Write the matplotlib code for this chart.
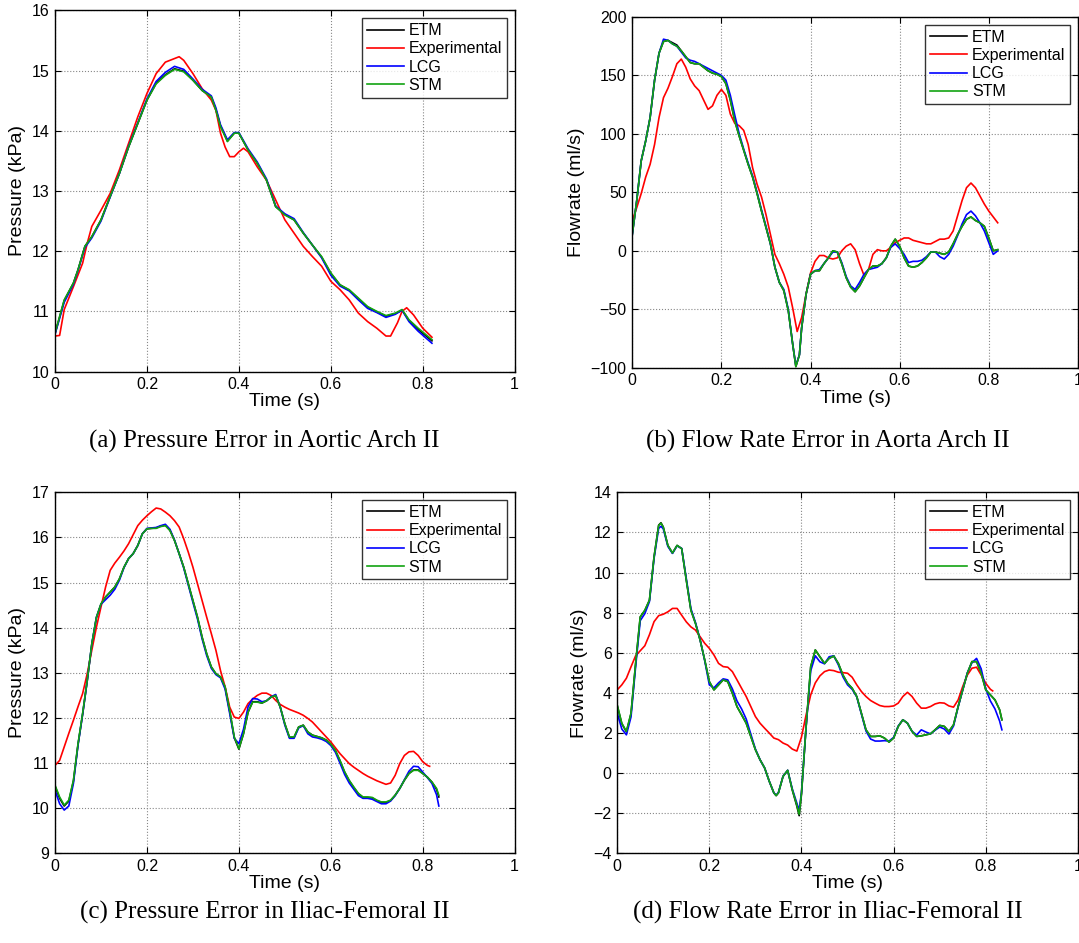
import matplotlib
matplotlib.use('Agg')
import matplotlib.pyplot as plt

# ---------------- (a) pressure, aortic arch ----------------
t_a = [0, 0.02, 0.04, 0.05, 0.065, 0.08, 0.10, 0.12, 0.14, 0.16,
       0.18, 0.20, 0.22, 0.24, 0.26, 0.28, 0.30, 0.32, 0.34, 0.35,
       0.36, 0.375, 0.39, 0.40, 0.42, 0.44, 0.46, 0.48, 0.50, 0.52,
       0.54, 0.56, 0.58, 0.60, 0.62, 0.64, 0.66, 0.68, 0.70, 0.72,
       0.74, 0.755, 0.77, 0.79, 0.82]
stm_a = [10.64, 11.19, 11.47, 11.69, 12.08, 12.24, 12.52, 12.91, 13.29, 13.73,
         14.12, 14.51, 14.78, 14.92, 15.02, 14.98, 14.84, 14.67, 14.56, 14.34,
         14.07, 13.82, 13.96, 13.96, 13.68, 13.46, 13.18, 12.74, 12.60, 12.52,
         12.30, 12.10, 11.91, 11.64, 11.44, 11.36, 11.22, 11.08, 11.00, 10.93,
         10.97, 11.03, 10.86, 10.72, 10.53]
etm_a = [10.63, 11.18, 11.47, 11.69, 12.08, 12.24, 12.52, 12.91, 13.29, 13.73,
         14.12, 14.51, 14.79, 14.93, 15.03, 14.99, 14.84, 14.67, 14.56, 14.35,
         14.08, 13.83, 13.96, 13.96, 13.68, 13.46, 13.18, 12.74, 12.61, 12.52,
         12.30, 12.10, 11.90, 11.63, 11.44, 11.35, 11.21, 11.07, 10.99, 10.92,
         10.96, 11.02, 10.85, 10.70, 10.51]
lcg_a = [10.62, 11.15, 11.45, 11.68, 12.06, 12.22, 12.50, 12.90, 13.29, 13.74,
         14.13, 14.53, 14.82, 14.97, 15.07, 15.02, 14.86, 14.69, 14.58, 14.38,
         14.10, 13.85, 13.97, 13.97, 13.70, 13.48, 13.20, 12.75, 12.62, 12.54,
         12.31, 12.10, 11.89, 11.60, 11.42, 11.34, 11.19, 11.05, 10.98, 10.90,
         10.95, 11.02, 10.83, 10.67, 10.47]
te_a = [0, 0.01, 0.02, 0.04, 0.06, 0.07, 0.08, 0.10, 0.12, 0.14,
        0.16, 0.18, 0.20, 0.22, 0.24, 0.26, 0.27, 0.28, 0.30, 0.32,
        0.34, 0.35, 0.36, 0.37, 0.38, 0.39, 0.40, 0.41, 0.42, 0.44,
        0.46, 0.48, 0.50, 0.52, 0.54, 0.56, 0.58, 0.60, 0.62, 0.64,
        0.66, 0.68, 0.70, 0.72, 0.73, 0.745, 0.755, 0.765, 0.78, 0.80,
        0.82]
exp_a = [10.59, 10.60, 11.03, 11.41, 11.80, 12.13, 12.41, 12.68, 12.96, 13.35,
         13.79, 14.23, 14.62, 14.95, 15.14, 15.20, 15.23, 15.17, 14.95, 14.70,
         14.51, 14.34, 13.96, 13.73, 13.57, 13.57, 13.65, 13.71, 13.65, 13.40,
         13.18, 12.85, 12.52, 12.30, 12.08, 11.91, 11.75, 11.50, 11.36, 11.19,
         10.97, 10.83, 10.72, 10.59, 10.59, 10.81, 11.00, 11.06, 10.94, 10.72,
         10.57]

# ---------------- (b) flow rate, aortic arch ----------------
t_b = [0.00, 0.01, 0.02, 0.03, 0.04, 0.05, 0.06, 0.07, 0.08, 0.09,
       0.10, 0.11, 0.12, 0.13, 0.14, 0.15, 0.16, 0.17, 0.18, 0.19,
       0.20, 0.21, 0.22, 0.23, 0.24, 0.25, 0.26, 0.27, 0.28, 0.29,
       0.30, 0.31, 0.32, 0.33, 0.34, 0.35, 0.36, 0.367, 0.375, 0.38,
       0.39, 0.40, 0.41, 0.42, 0.43, 0.44, 0.45, 0.46, 0.47, 0.48,
       0.49, 0.50, 0.51, 0.52, 0.53, 0.54, 0.55, 0.56, 0.57, 0.58,
       0.59, 0.60, 0.61, 0.62, 0.63, 0.64, 0.65, 0.66, 0.67, 0.68,
       0.69, 0.70, 0.71, 0.72, 0.73, 0.74, 0.75, 0.76, 0.77, 0.78,
       0.79, 0.80, 0.81, 0.82]
stm_b = [14, 43, 77, 94, 114, 146, 169, 179, 180, 177,
         175, 171, 166, 161, 160, 160, 157, 154, 152, 151,
         149, 143, 129, 111, 98, 86, 74, 63, 49, 34,
         20, 6, -14, -27, -34, -51, -80, -99, -89, -66,
         -37, -20, -17, -17, -11, -6, 0, -1, -11, -23,
         -31, -35, -30, -23, -16, -13, -13, -11, -6, 4,
         10, 4, -6, -13, -14, -13, -10, -6, -1, -1,
         -2, -3, -1, 6, 14, 21, 27, 29, 26, 24,
         21, 11, 0, 1]
etm_b = [14, 43, 77, 94, 114, 146, 169, 179, 180, 178,
         176, 171, 166, 161, 160, 160, 157, 154, 152, 151,
         149, 143, 129, 111, 98, 86, 74, 63, 49, 34,
         20, 6, -14, -27, -34, -51, -80, -99, -89, -66,
         -37, -20, -17, -17, -11, -6, 0, -1, -11, -23,
         -31, -35, -30, -23, -16, -13, -13, -11, -6, 4,
         10, 4, -6, -13, -14, -13, -10, -6, -1, -1,
         -2, -3, -1, 6, 14, 21, 27, 29, 26, 24,
         21, 11, 0, 1]
lcg_b = [14, 43, 77, 94, 114, 146, 169, 181, 180, 177,
         175, 170, 165, 163, 162, 160, 158, 156, 154, 152,
         150, 146, 133, 116, 100, 87, 75, 64, 50, 35,
         21, 6, -14, -27, -33, -50, -80, -98, -89, -66,
         -37, -20, -17, -16, -11, -6, -1, -1, -10, -22,
         -30, -33, -27, -20, -16, -15, -14, -11, -6, 3,
         6, 2, -3, -10, -9, -9, -8, -5, -1, -1,
         -5, -7, -3, 4, 13, 23, 31, 34, 30, 24,
         17, 7, -3, 0]
te_b = [0.00, 0.01, 0.02, 0.03, 0.04, 0.05, 0.06, 0.07, 0.08, 0.09,
        0.10, 0.11, 0.12, 0.13, 0.14, 0.15, 0.16, 0.17, 0.18, 0.19,
        0.20, 0.21, 0.22, 0.23, 0.24, 0.25, 0.26, 0.27, 0.28, 0.29,
        0.30, 0.31, 0.32, 0.33, 0.34, 0.35, 0.36, 0.37, 0.38, 0.39,
        0.40, 0.41, 0.42, 0.43, 0.44, 0.45, 0.46, 0.47, 0.48, 0.49,
        0.50, 0.51, 0.52, 0.53, 0.54, 0.55, 0.56, 0.57, 0.58, 0.59,
        0.60, 0.61, 0.62, 0.63, 0.64, 0.65, 0.66, 0.67, 0.68, 0.69,
        0.70, 0.71, 0.72, 0.73, 0.74, 0.75, 0.76, 0.77, 0.78, 0.79,
        0.80, 0.81, 0.82]
exp_b = [26, 37, 49, 63, 74, 91, 114, 131, 139, 149,
         160, 164, 157, 147, 141, 137, 129, 121, 124, 133,
         138, 133, 117, 109, 107, 103, 91, 71, 57, 46,
         31, 14, -3, -11, -20, -31, -49, -69, -57, -37,
         -19, -9, -4, -4, -6, -7, -6, 0, 4, 6,
         1, -11, -21, -16, -3, 1, 0, 0, 3, 7,
         9, 11, 11, 9, 8, 7, 6, 6, 8, 10,
         10, 11, 17, 30, 43, 54, 58, 54, 47, 40,
         34, 29, 24]

# ---------------- (c) pressure, iliac-femoral ----------------
t_c = [0.00, 0.01, 0.02, 0.03, 0.04, 0.05, 0.06, 0.07, 0.08, 0.09,
       0.10, 0.11, 0.12, 0.13, 0.14, 0.15, 0.16, 0.17, 0.18, 0.19,
       0.20, 0.21, 0.22, 0.23, 0.24, 0.25, 0.26, 0.27, 0.28, 0.29,
       0.30, 0.31, 0.32, 0.33, 0.34, 0.35, 0.36, 0.37, 0.38, 0.39,
       0.40, 0.41, 0.42, 0.43, 0.44, 0.45, 0.46, 0.47, 0.48, 0.49,
       0.50, 0.51, 0.52, 0.53, 0.54, 0.55, 0.56, 0.57, 0.58, 0.59,
       0.60, 0.61, 0.62, 0.63, 0.64, 0.65, 0.66, 0.67, 0.68, 0.69,
       0.70, 0.71, 0.72, 0.73, 0.74, 0.75, 0.76, 0.77, 0.78, 0.79,
       0.80, 0.81, 0.82, 0.83, 0.835]
stm_c = [10.51, 10.25, 10.07, 10.18, 10.62, 11.43, 12.10, 12.83, 13.64, 14.23,
         14.53, 14.68, 14.79, 14.90, 15.08, 15.34, 15.53, 15.64, 15.82, 16.08,
         16.19, 16.20, 16.20, 16.24, 16.26, 16.15, 15.93, 15.64, 15.34, 14.97,
         14.60, 14.23, 13.79, 13.42, 13.13, 12.98, 12.91, 12.69, 12.17, 11.58,
         11.32, 11.65, 12.13, 12.35, 12.35, 12.33, 12.38, 12.46, 12.50, 12.24,
         11.87, 11.58, 11.58, 11.80, 11.84, 11.69, 11.62, 11.59, 11.56, 11.51,
         11.42, 11.28, 11.06, 10.81, 10.62, 10.47, 10.33, 10.25, 10.25, 10.24,
         10.18, 10.14, 10.14, 10.18, 10.29, 10.44, 10.62, 10.77, 10.84, 10.84,
         10.77, 10.69, 10.58, 10.44, 10.29]
etm_c = [10.49, 10.22, 10.05, 10.16, 10.60, 11.41, 12.08, 12.82, 13.63, 14.22,
         14.52, 14.68, 14.79, 14.90, 15.08, 15.34, 15.53, 15.64, 15.82, 16.08,
         16.19, 16.20, 16.21, 16.25, 16.27, 16.16, 15.93, 15.64, 15.34, 14.97,
         14.60, 14.23, 13.79, 13.42, 13.13, 12.98, 12.91, 12.68, 12.15, 11.56,
         11.31, 11.65, 12.13, 12.36, 12.36, 12.33, 12.38, 12.46, 12.50, 12.24,
         11.87, 11.57, 11.57, 11.80, 11.84, 11.69, 11.62, 11.59, 11.56, 11.51,
         11.42, 11.28, 11.05, 10.80, 10.61, 10.46, 10.32, 10.24, 10.24, 10.23,
         10.17, 10.13, 10.13, 10.17, 10.29, 10.44, 10.62, 10.77, 10.85, 10.85,
         10.77, 10.69, 10.58, 10.42, 10.25]
lcg_c = [10.40, 10.10, 9.96, 10.05, 10.55, 11.40, 12.08, 12.82, 13.64, 14.23,
         14.52, 14.62, 14.72, 14.85, 15.05, 15.33, 15.53, 15.64, 15.82, 16.08,
         16.20, 16.21, 16.22, 16.26, 16.29, 16.18, 15.94, 15.64, 15.32, 14.94,
         14.56, 14.19, 13.75, 13.38, 13.10, 12.96, 12.89, 12.64, 12.10, 11.55,
         11.43, 11.75, 12.25, 12.43, 12.42, 12.36, 12.38, 12.47, 12.52, 12.24,
         11.84, 11.55, 11.55, 11.78, 11.83, 11.65, 11.58, 11.56, 11.53, 11.48,
         11.39, 11.24, 11.00, 10.75, 10.56, 10.42, 10.28, 10.22, 10.22, 10.20,
         10.15, 10.10, 10.10, 10.16, 10.28, 10.44, 10.63, 10.82, 10.93, 10.92,
         10.80, 10.68, 10.55, 10.30, 10.05]
te_c = [0.00, 0.01, 0.02, 0.03, 0.04, 0.05, 0.06, 0.07, 0.08, 0.09,
        0.10, 0.11, 0.12, 0.13, 0.14, 0.15, 0.16, 0.17, 0.18, 0.19,
        0.20, 0.21, 0.22, 0.23, 0.24, 0.25, 0.26, 0.27, 0.28, 0.29,
        0.30, 0.31, 0.32, 0.33, 0.34, 0.35, 0.36, 0.37, 0.38, 0.39,
        0.40, 0.41, 0.42, 0.43, 0.44, 0.45, 0.46, 0.47, 0.48, 0.49,
        0.50, 0.51, 0.52, 0.53, 0.54, 0.55, 0.56, 0.57, 0.58, 0.59,
        0.60, 0.61, 0.62, 0.63, 0.64, 0.65, 0.66, 0.67, 0.68, 0.69,
        0.70, 0.71, 0.72, 0.73, 0.74, 0.75, 0.76, 0.77, 0.78, 0.79,
        0.80, 0.81, 0.815]
exp_c = [10.95, 11.06, 11.36, 11.66, 11.95, 12.25, 12.54, 12.98, 13.50, 14.01,
         14.46, 14.90, 15.27, 15.43, 15.56, 15.70, 15.86, 16.06, 16.26, 16.38,
         16.48, 16.57, 16.65, 16.63, 16.56, 16.48, 16.37, 16.23, 15.97, 15.67,
         15.34, 14.97, 14.60, 14.23, 13.87, 13.50, 13.05, 12.69, 12.24, 12.02,
         11.99, 12.13, 12.32, 12.42, 12.50, 12.55, 12.55, 12.50, 12.39, 12.30,
         12.24, 12.19, 12.15, 12.11, 12.06, 11.99, 11.91, 11.80, 11.69, 11.58,
         11.47, 11.34, 11.21, 11.10, 10.99, 10.91, 10.84, 10.77, 10.71, 10.66,
         10.61, 10.57, 10.53, 10.56, 10.73, 10.99, 11.17, 11.25, 11.26, 11.17,
         11.03, 10.95, 10.93]

# ---------------- (d) flow rate, iliac-femoral ----------------
t_d = [0.00, 0.01, 0.02, 0.03, 0.04, 0.05, 0.06, 0.07, 0.08, 0.09, 0.095,
       0.10, 0.11, 0.12, 0.13, 0.14, 0.15, 0.16, 0.17, 0.18, 0.19,
       0.20, 0.21, 0.22, 0.23, 0.24, 0.25, 0.26, 0.27, 0.28, 0.29,
       0.30, 0.31, 0.32, 0.33, 0.34, 0.345, 0.35, 0.36, 0.37, 0.38, 0.39, 0.395,
       0.40, 0.41, 0.42, 0.43, 0.44, 0.45, 0.46, 0.47, 0.48, 0.49,
       0.50, 0.51, 0.52, 0.53, 0.54, 0.55, 0.56, 0.57, 0.58, 0.59,
       0.60, 0.61, 0.62, 0.63, 0.64, 0.65, 0.66, 0.67, 0.68, 0.69,
       0.70, 0.71, 0.72, 0.73, 0.74, 0.75, 0.76, 0.77, 0.78, 0.79,
       0.80, 0.81, 0.82, 0.83, 0.835]
stm_d = [3.40, 2.49, 2.08, 2.99, 5.47, 7.79, 8.12, 8.62, 10.77, 12.34, 12.46,
         12.26, 11.35, 10.97, 11.35, 11.19, 9.62, 8.12, 7.46, 6.63, 5.64,
         4.56, 4.15, 4.40, 4.65, 4.56, 3.98, 3.32, 2.91, 2.49, 1.83,
         1.17, 0.67, 0.26, -0.40, -0.98, -1.12, -0.98, -0.16, 0.14, -0.82, -1.60, -2.05,
         -1.00, 2.33, 5.31, 6.14, 5.80, 5.47, 5.72, 5.84, 5.47, 4.89,
         4.48, 4.23, 3.82, 2.99, 2.16, 1.83, 1.83, 1.86, 1.75, 1.55,
         1.75, 2.33, 2.66, 2.49, 2.08, 1.83, 1.86, 1.91, 1.96, 2.16,
         2.38, 2.33, 2.08, 2.41, 3.32, 4.15, 4.98, 5.56, 5.56, 4.98,
         4.15, 3.90, 3.65, 3.16, 2.66]
etm_d = [3.38, 2.47, 2.06, 2.97, 5.45, 7.78, 8.11, 8.62, 10.78, 12.36, 12.48,
         12.27, 11.35, 10.97, 11.35, 11.19, 9.62, 8.12, 7.46, 6.63, 5.64,
         4.56, 4.15, 4.40, 4.65, 4.56, 3.98, 3.32, 2.91, 2.49, 1.83,
         1.17, 0.67, 0.26, -0.40, -0.98, -1.12, -0.98, -0.16, 0.14, -0.84, -1.65, -2.12,
         -1.05, 2.30, 5.30, 6.14, 5.80, 5.47, 5.72, 5.84, 5.47, 4.89,
         4.48, 4.23, 3.82, 2.99, 2.16, 1.83, 1.83, 1.86, 1.75, 1.55,
         1.75, 2.33, 2.66, 2.49, 2.08, 1.83, 1.86, 1.91, 1.96, 2.16,
         2.38, 2.33, 2.08, 2.41, 3.32, 4.15, 4.98, 5.56, 5.56, 4.98,
         4.15, 3.90, 3.65, 3.16, 2.66]
lcg_d = [3.00, 2.20, 1.91, 2.80, 5.30, 7.60, 7.95, 8.55, 10.70, 12.20, 12.30,
         12.18, 11.30, 10.95, 11.33, 11.20, 9.70, 8.20, 7.50, 6.65, 5.60,
         4.40, 4.25, 4.50, 4.70, 4.65, 4.20, 3.60, 3.20, 2.70, 1.95,
         1.20, 0.67, 0.26, -0.40, -0.98, -1.10, -0.96, -0.15, 0.14, -0.78, -1.50, -1.85,
         -0.95, 2.30, 5.10, 5.85, 5.55, 5.45, 5.80, 5.85, 5.40, 4.80,
         4.40, 4.18, 3.80, 2.95, 2.10, 1.70, 1.60, 1.60, 1.62, 1.60,
         1.78, 2.35, 2.66, 2.49, 2.08, 1.90, 2.16, 2.05, 1.96, 2.14,
         2.30, 2.20, 1.95, 2.35, 3.30, 4.15, 5.00, 5.50, 5.72, 5.20,
         4.20, 3.60, 3.20, 2.60, 2.16]
te_d = [0.00, 0.01, 0.02, 0.03, 0.04, 0.05, 0.06, 0.07, 0.08, 0.09,
        0.10, 0.11, 0.12, 0.13, 0.14, 0.15, 0.16, 0.17, 0.18, 0.19,
        0.20, 0.21, 0.22, 0.23, 0.24, 0.25, 0.26, 0.27, 0.28, 0.29,
        0.30, 0.31, 0.32, 0.33, 0.34, 0.35, 0.36, 0.37, 0.38, 0.39,
        0.40, 0.41, 0.42, 0.43, 0.44, 0.45, 0.46, 0.47, 0.48, 0.49,
        0.50, 0.51, 0.52, 0.53, 0.54, 0.55, 0.56, 0.57, 0.58, 0.59,
        0.60, 0.61, 0.62, 0.63, 0.64, 0.65, 0.66, 0.67, 0.68, 0.69,
        0.70, 0.71, 0.72, 0.73, 0.74, 0.75, 0.76, 0.77, 0.78, 0.79,
        0.80, 0.81, 0.815]
exp_d = [4.15, 4.40, 4.73, 5.30, 5.85, 6.10, 6.35, 6.90, 7.55, 7.85,
         7.92, 8.04, 8.21, 8.21, 7.87, 7.54, 7.29, 7.13, 6.80, 6.47,
         6.22, 5.89, 5.47, 5.31, 5.28, 5.06, 4.65, 4.23, 3.82, 3.32,
         2.82, 2.49, 2.24, 2.00, 1.75, 1.67, 1.50, 1.40, 1.20, 1.10,
         1.80, 2.90, 3.90, 4.50, 4.85, 5.06, 5.14, 5.11, 5.03, 5.01,
         4.98, 4.78, 4.40, 4.07, 3.82, 3.62, 3.49, 3.37, 3.32, 3.32,
         3.35, 3.49, 3.82, 4.03, 3.82, 3.49, 3.24, 3.24, 3.32, 3.45,
         3.51, 3.49, 3.35, 3.29, 3.65, 4.32, 4.89, 5.23, 5.28, 4.89,
         4.48, 4.18, 4.10]

labels = ['ETM', 'Experimental', 'LCG', 'STM']
green = '#12a312'

panels = [
    ([0.051, 0.606, 0.426, 0.383], t_a, etm_a, lcg_a, stm_a, te_a, exp_a,
     (10, 16), range(10, 17), 'Pressure (kPa)', '(a) Pressure Error in Aortic Arch II', 0.245),
    ([0.586, 0.610, 0.413, 0.372], t_b, etm_b, lcg_b, stm_b, te_b, exp_b,
     (-100, 200), range(-100, 201, 50), 'Flowrate (ml/s)', '(b) Flow Rate Error in Aorta Arch II', 0.767),
    ([0.051, 0.095, 0.426, 0.383], t_c, etm_c, lcg_c, stm_c, te_c, exp_c,
     (9, 17), range(9, 18), 'Pressure (kPa)', '(c) Pressure Error in Iliac-Femoral II', 0.245),
    ([0.572, 0.095, 0.427, 0.383], t_d, etm_d, lcg_d, stm_d, te_d, exp_d,
     (-4, 14), range(-4, 15, 2), 'Flowrate (ml/s)', '(d) Flow Rate Error in Iliac-Femoral II', 0.767),
]
cap_y = [0.532, 0.532, 0.032, 0.032]

plt.rcParams['font.family'] = ['Liberation Sans', 'DejaVu Sans']
fig = plt.figure(figsize=(10.79, 9.43), dpi=100)

for i, (pos, tm, etm, lcg, stm, te, ex, ylim, yt, ylab, cap, cx) in enumerate(panels):
    ax = fig.add_axes(pos)
    ax.plot(tm, etm, color='k', lw=1.2, label=labels[0])
    ax.plot(te, ex, color='r', lw=1.2, label=labels[1])
    ax.plot(tm, lcg, color='b', lw=1.2, label=labels[2])
    ax.plot(tm, stm, color=green, lw=1.2, label=labels[3])
    ax.set_xlim(0, 1)
    ax.set_ylim(*ylim)
    ax.set_xticks([0, 0.2, 0.4, 0.6, 0.8, 1])
    ax.set_xticklabels(['0', '0.2', '0.4', '0.6', '0.8', '1'])
    ax.set_yticks(list(yt))
    ax.set_yticklabels([str(v).replace('-', '\u2212') for v in yt])
    ax.grid(True, linestyle=':', color='#888888', lw=0.8)
    ax.tick_params(direction='in', top=True, right=True, labelsize=11.5, length=4, pad=4)
    ax.set_xlabel('Time (s)', fontsize=14, labelpad=1)
    ax.set_ylabel(ylab, fontsize=14, labelpad=4)
    leg = ax.legend(loc='upper right', fontsize=11.5, frameon=True, fancybox=False,
                    edgecolor='k', borderpad=0.3, labelspacing=0.2, handlelength=2.3,
                    handletextpad=0.3, borderaxespad=0.5)
    leg.get_frame().set_linewidth(1.0)
    for sp in ax.spines.values():
        sp.set_linewidth(1.0)
    fig.text(cx, cap_y[i], cap, ha='center', va='center', fontsize=18,
             family='Liberation Serif')

fig.savefig('out.png', dpi=100)
